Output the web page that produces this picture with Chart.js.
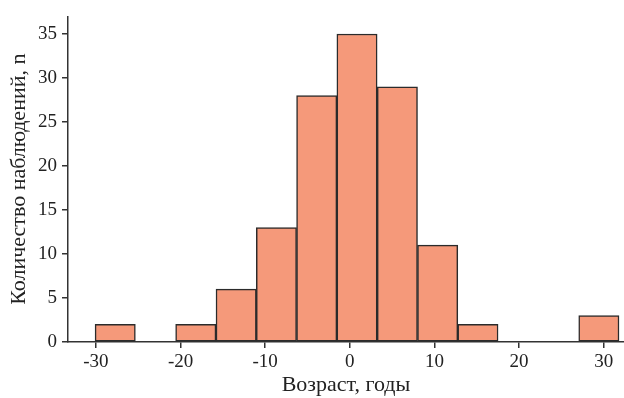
<!DOCTYPE html>
<html>
<head>
<meta charset="utf-8">
<script src="https://cdn.jsdelivr.net/npm/chart.js@4/dist/chart.umd.min.js"></script>
<style>
    html, body { margin: 0; padding: 0; background: #fff; }
    #wrap { width: 624px; height: 398px; }
</style>
</head>
<body>
<div id="wrap"><canvas id="histChart" width="624" height="398"></canvas></div>
<script>
// Histogram: age difference, bins ~4.76 years wide
const binCenters = [-27.72, -22.96, -18.2, -13.43, -8.67, -3.91, 0.85, 5.62, 10.38, 15.14, 19.9, 24.67, 29.43];
const counts = [2, null, 2, 6, 13, 28, 35, 29, 11, 2, null, null, 3];
const xTicks = [-30, -20, -10, 0, 10, 20, 30];
const yTicks = [0, 5, 10, 15, 20, 25, 30, 35];

const AXIS_COLOR = '#333333';
const FONT = { family: '"Liberation Serif", "DejaVu Serif", serif', size: 19 };
const TITLE_FONT = { family: '"Liberation Serif", "DejaVu Serif", serif', size: 22 };

function initHistogram() {
    const canvas = document.getElementById('histChart');
    const points = binCenters.map((x, i) => ({ x, y: counts[i] }));

    new Chart(canvas, {
        type: 'bar',
        data: {
            datasets: [{
                data: points,
                backgroundColor: '#F5997A',
                borderColor: '#2b2b2b',
                borderWidth: 1.5,
                borderSkipped: false,
                barPercentage: 1,
                categoryPercentage: 1
            }]
        },
        options: {
            responsive: false,
            animation: false,
            layout: { padding: { top: 10, right: 0, left: 0, bottom: 0 } },
            plugins: { legend: { display: false }, tooltip: { enabled: false } },
            scales: {
                x: {
                    type: 'linear',
                    min: -33.3,
                    max: 32.4,
                    offset: false,
                    afterBuildTicks: axis => { axis.ticks = xTicks.map(v => ({ value: v })); },
                    afterFit: axis => { axis.height = 56; },
                    ticks: { font: FONT, color: '#222', padding: 3, maxRotation: 0 },
                    grid: { display: true, offset: false, drawOnChartArea: false, drawTicks: true, tickLength: 6, color: AXIS_COLOR, lineWidth: 1.5 },
                    border: { display: true, color: AXIS_COLOR, width: 1.5 },
                    title: { display: true, text: 'Возраст, годы', font: TITLE_FONT, color: '#222', padding: { top: 0, bottom: 0 } }
                },
                y: {
                    min: 0,
                    max: 37,
                    afterBuildTicks: axis => { axis.ticks = yTicks.map(v => ({ value: v })); },
                    afterFit: axis => { axis.width = 68; },
                    ticks: { font: FONT, color: '#222', padding: 5 },
                    grid: { display: true, drawOnChartArea: false, drawTicks: true, tickLength: 6, color: AXIS_COLOR, lineWidth: 1.5 },
                    border: { display: true, color: AXIS_COLOR, width: 1.5 },
                    title: { display: true, text: 'Количество наблюдений, n', font: TITLE_FONT, color: '#222', padding: { top: 6, bottom: 0 } }
                }
            }
        }
    });
}

initHistogram();
</script>
</body>
</html>
